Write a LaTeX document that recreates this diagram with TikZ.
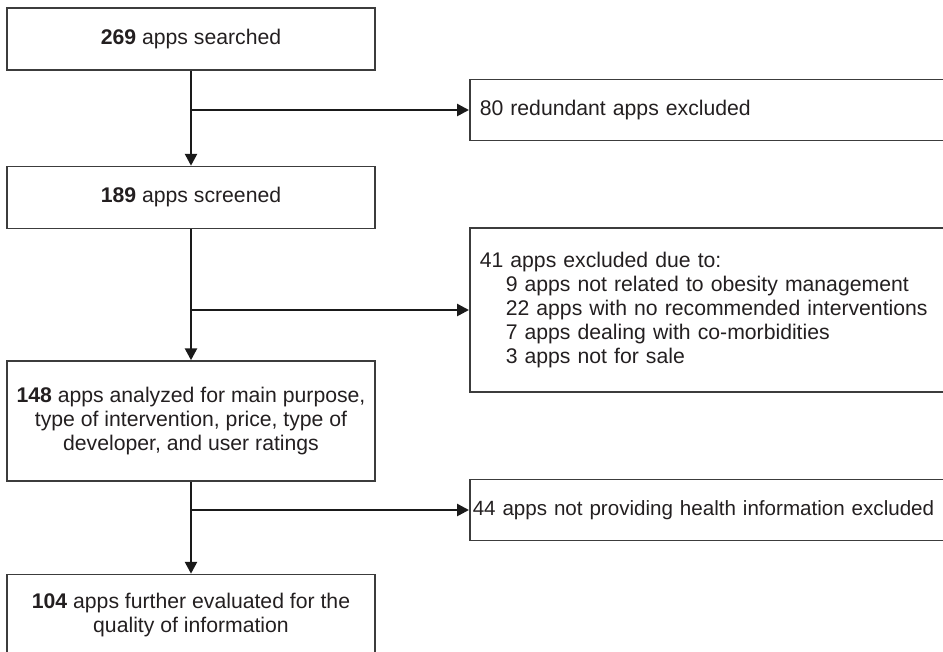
\documentclass[tikz,border=0pt]{standalone}
\usepackage{fontspec}
\setmainfont{Liberation Sans}
\usepackage{tikz}
\usetikzlibrary{arrows.meta}
\usetikzlibrary{positioning}

\definecolor{boxline}{HTML}{3C3C3C}
\definecolor{flowline}{HTML}{1A1A1A}
\definecolor{textgray}{HTML}{231F20}

\begin{document}
\begin{tikzpicture}[x=1pt,y=-1pt]
      \tikzstyle{every node}=[font=\fontsize{21.2}{24}\selectfont,text=textgray]
      \tikzstyle{mainbox}=[draw=boxline,line width=1.5pt,minimum width=368pt,inner sep=0pt,align=center]
      \tikzstyle{sidebox}=[draw=boxline,line width=1.5pt,anchor=west,inner ysep=0pt,inner xsep=10pt,text width=480pt,align=left]
      \tikzstyle{flow}=[draw=flowline,line width=2.6pt,-{Triangle[length=12pt,width=12pt]}]

      \clip (0,0) rectangle (943,651);

      \node [mainbox,minimum height=62pt] at (191,39) (searched) {\textbf{269} apps searched};
      \node [mainbox,minimum height=62pt,below=95pt of searched] (screened) {\textbf{189} apps screened};
      \node [mainbox,minimum height=120pt,below=131pt of screened] (analyzed) {\textbf{148} apps analyzed for main purpose,\\type of intervention, price, type of\\developer, and user ratings};
      \node [mainbox,minimum height=82pt,below=92pt of analyzed] (evaluated) {\textbf{104} apps further evaluated for the\\quality of information};

      \node [sidebox,minimum height=61pt] at (469,110) (redundant) {80 redundant apps excluded};
      \node [sidebox,minimum height=164pt] at (469,310) (reasons) {41 apps excluded due to:\\
        \hspace*{26pt}9 apps not related to obesity management\\
        \hspace*{26pt}22 apps with no recommended interventions\\
        \hspace*{26pt}7 apps dealing with co-morbidities\\
        \hspace*{26pt}3 apps not for sale};
      \node [sidebox,minimum height=61pt,inner xsep=3pt,text width=494pt,font=\fontsize{20.6}{24}\selectfont] at (469,510) (nohealth) {44 apps not providing health information excluded};

      \draw [flow] (searched) -- (screened);
      \draw [flow] (screened) -- (analyzed);
      \draw [flow] (analyzed) -- (evaluated);

      \draw [flow] (searched.south |- redundant.west) -- (redundant.west);
      \draw [flow] (screened.south |- reasons.west) -- (reasons.west);
      \draw [flow] (analyzed.south |- nohealth.west) -- (nohealth.west);
    \end{tikzpicture}
\end{document}
